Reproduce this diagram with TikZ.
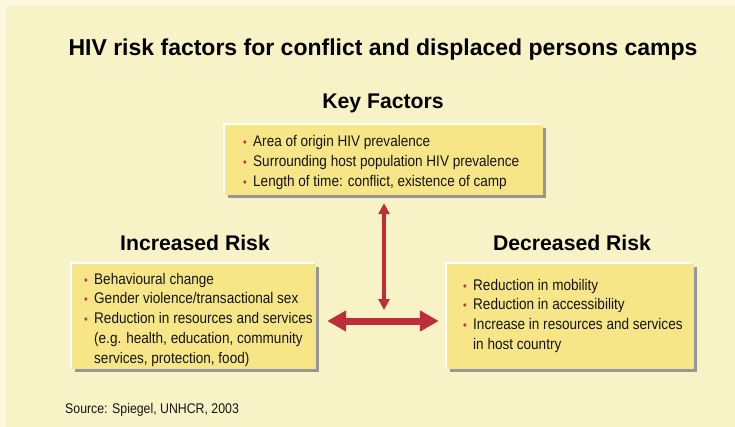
\documentclass[tikz,border=0pt]{standalone}
\usepackage{fontspec}
\setmainfont{Liberation Sans}
\newfontfamily\bodyfont[FakeStretch=0.88]{Liberation Sans}
\usetikzlibrary{arrows.meta}
\definecolor{outerbg}{RGB}{253,249,222}
\definecolor{mainbg}{RGB}{248,243,198}
\definecolor{boxfill}{RGB}{247,230,136}
\definecolor{shadowgray}{RGB}{150,150,150}
\definecolor{arrowred}{RGB}{190,46,56}
\definecolor{bulred}{RGB}{200,50,60}
\definecolor{txt}{RGB}{20,20,20}
\newcommand{\bul}{\makebox[10pt][l]{\fontsize{12}{12}\selectfont\textcolor{bulred}{•}}}
\begin{document}
\begin{tikzpicture}[x=1pt,y=-1pt,
  panel/.style={draw=none, fill=boxfill, inner sep=0pt,
    preaction={fill=white, transform canvas={xshift=-2pt,yshift=2pt}},
    preaction={fill=shadowgray, transform canvas={xshift=3pt,yshift=-3pt}}},
  heading/.style={font=\fontsize{21.2}{24}\selectfont\bfseries, text=black, inner sep=0pt, anchor=base},
  body/.style={font=\bodyfont\fontsize{15.4}{19.8}\selectfont, text=txt, inner sep=0pt, anchor=base west},
  bigarrow/.style={draw=arrowred, line width=7pt, {Triangle[width=20pt,length=19pt]}-{Triangle[width=20pt,length=19pt]}},
  thinarrow/.style={draw=arrowred, line width=3.5pt, {Triangle[width=11pt,length=11pt]}-{Triangle[width=11pt,length=11pt]}}
]
\useasboundingbox (0,0) rectangle (735,427);
\fill[outerbg] (0,0) rectangle (735,427);
\fill[mainbg] (6,6) rectangle (735,427);

\node[font=\fontsize{23}{26}\selectfont\bfseries, text=black, inner sep=0pt, anchor=base] (title) at (383,56) {HIV risk factors for conflict and displaced persons camps};

\node[heading] (hkey) at (383,109) {Key Factors};
\node[heading] (hinc) at (195,251) {Increased Risk};
\node[heading] (hdec) at (572,251) {Decreased Risk};

\node[panel, minimum width=318pt, minimum height=70pt] (key) at (384,160) {};
\node[panel, minimum width=244pt, minimum height=105pt] (incr) at (194,316.5) {};
\node[panel, minimum width=247pt, minimum height=105pt] (decr) at (570.5,316.5) {};

\node[body] (ktext) at (243,147) {\begin{tabular}[t]{@{}l@{}l@{}}
\bul & Area of origin HIV prevalence\\
\bul & Surrounding host population HIV prevalence\\
\bul & Length of time: conflict, existence of camp
\end{tabular}};

\node[body] (itext) at (84,284) {\begin{tabular}[t]{@{}l@{}l@{}}
\bul & Behavioural change\\
\bul & Gender violence/transactional sex\\
\bul & Reduction in resources and services\\
 & (e.g. health, education, community\\
 & services, protection, food)
\end{tabular}};

\node[body] (dtext) at (463,290) {\begin{tabular}[t]{@{}l@{}l@{}}
\bul & Reduction in mobility\\
\bul & Reduction in accessibility\\
\bul & Increase in resources and services\\
 & in host country
\end{tabular}};

\coordinate (hmid) at (384,321);
\draw[thinarrow, shorten <=8pt, shorten >=11pt] (key.south) -- (hmid);
\draw[bigarrow, shorten <=11pt, shorten >=8pt] (hmid -| incr.east) -- (hmid -| decr.west);

\node[font=\bodyfont\fontsize{14}{15}\selectfont, text=txt, inner sep=0pt, anchor=base west] (src) at (65,413) {Source: Spiegel, UNHCR, 2003};
\end{tikzpicture}
\end{document}
